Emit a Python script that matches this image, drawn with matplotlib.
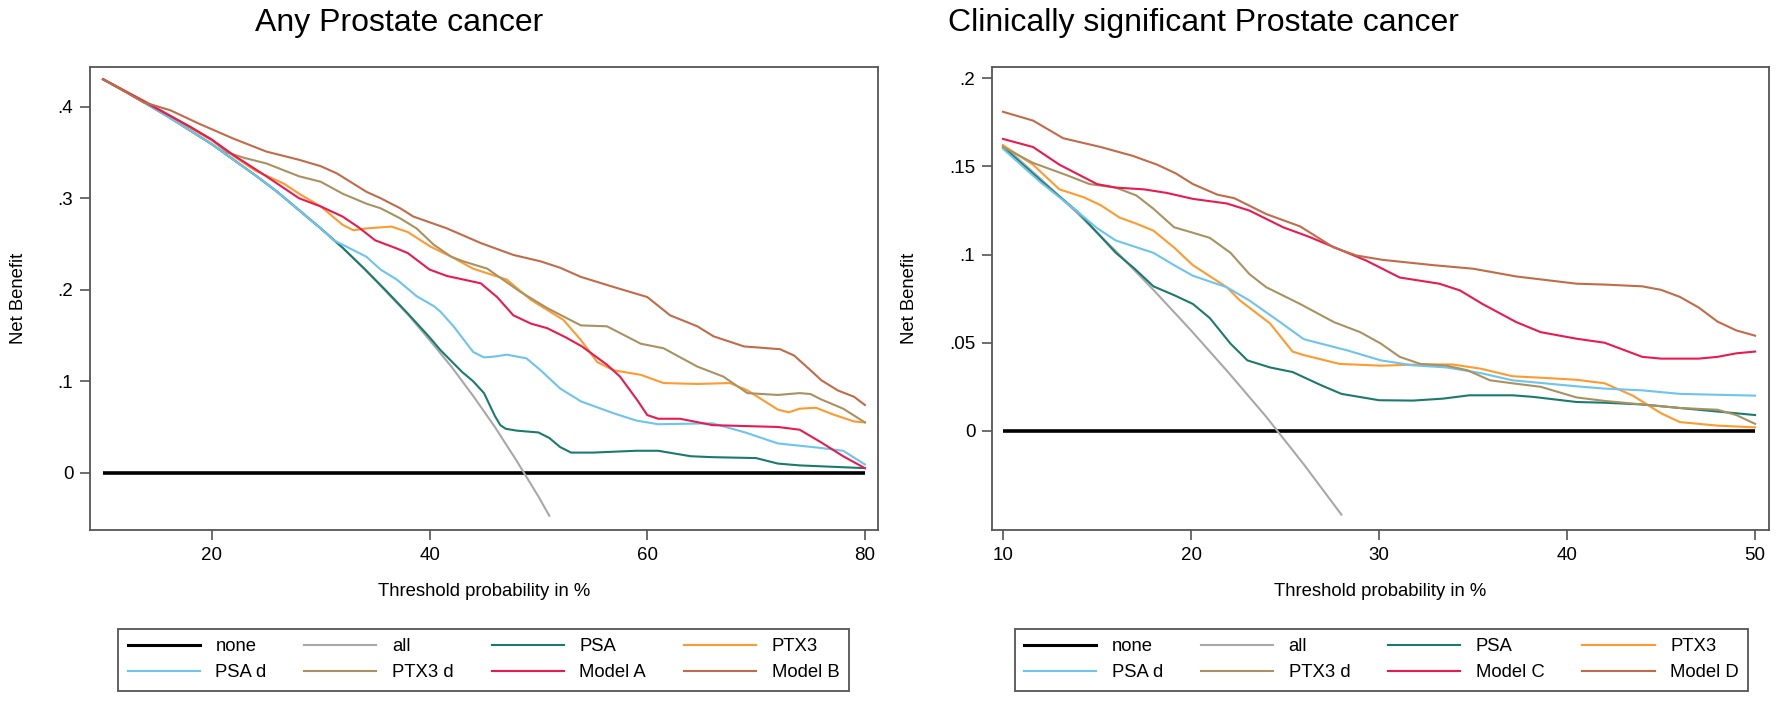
"""
Decision curves: net benefit vs threshold probability, two panels
"""
import matplotlib
matplotlib.use('Agg')
import matplotlib.pyplot as plt
from matplotlib.lines import Line2D

plt.rcParams['font.family'] = ['Liberation Sans', 'DejaVu Sans']

# ---- left panel: any prostate cancer ----
any_all_x = [10, 12, 14, 16, 18, 20, 22, 24, 26, 28, 30, 32, 34, 36, 38, 40, 42, 44, 46, 48, 50, 51]
any_all_y = [0.430, 0.417, 0.403, 0.389, 0.374, 0.359, 0.342, 0.325, 0.307, 0.287, 0.267,
             0.246, 0.223, 0.198, 0.173, 0.145, 0.116, 0.084, 0.050, 0.013, -0.026, -0.047]

any_psa_x = [10, 12, 14, 16, 18, 20, 22, 24, 26, 28, 30, 32, 34, 36, 38, 40, 41, 42, 43, 44, 45,
             46, 46.5, 47, 48, 50, 51, 52, 53, 55, 57, 59, 61, 62, 64, 66, 70, 72, 74, 76, 78, 80]
any_psa_y = [0.430, 0.417, 0.403, 0.389, 0.374, 0.359, 0.342, 0.325, 0.307, 0.287, 0.267,
             0.246, 0.223, 0.199, 0.174, 0.148, 0.134, 0.122, 0.110, 0.100, 0.087,
             0.062, 0.052, 0.048, 0.046, 0.044, 0.038, 0.028, 0.022, 0.022, 0.023, 0.024,
             0.024, 0.022, 0.018, 0.017, 0.016, 0.010, 0.008, 0.007, 0.006, 0.005]

any_ptx3_x = [10, 14, 18, 20, 22, 24, 26.6, 28, 30, 32, 33, 34.2, 36.5, 38, 40.1, 42, 44, 47.1,
              49.3, 52.3, 53.9, 55.4, 56.9, 59.4, 61.5, 64.6, 67.6, 69.2, 72, 73, 74, 75.5, 77, 79, 80]
any_ptx3_y = [0.430, 0.404, 0.377, 0.363, 0.346, 0.330, 0.316, 0.305, 0.291, 0.271, 0.265,
              0.267, 0.269, 0.263, 0.247, 0.236, 0.223, 0.211, 0.189, 0.167, 0.145, 0.121,
              0.112, 0.107, 0.098, 0.097, 0.098, 0.090, 0.069, 0.066, 0.070, 0.071, 0.064,
              0.056, 0.055]

any_psad_x = [10, 12, 14, 16, 18, 20, 22, 24, 26, 28, 30, 31.2, 32.7, 34.2, 35.5, 37, 38.8, 40.4,
              41, 42.2, 44, 45, 46, 47.1, 48.9, 50.2, 52, 53.9, 56.9, 59, 61, 66, 69, 72, 76, 78, 80]
any_psad_y = [0.430, 0.417, 0.403, 0.389, 0.374, 0.359, 0.342, 0.325, 0.307, 0.287, 0.267,
              0.254, 0.245, 0.236, 0.222, 0.211, 0.193, 0.182, 0.176, 0.160, 0.132, 0.126,
              0.127, 0.129, 0.125, 0.112, 0.092, 0.078, 0.065, 0.057, 0.053, 0.054, 0.044,
              0.032, 0.027, 0.024, 0.009]

any_ptx3d_x = [10, 14, 18, 20, 21.4, 23, 25, 28, 30, 32, 34.2, 35.5, 37.3, 38.8, 40.4, 42, 43.1,
               45.3, 48.3, 50.8, 53.9, 56.3, 59.4, 61.5, 64.6, 67, 69.2, 72, 74, 75, 76, 78, 80]
any_ptx3d_y = [0.430, 0.405, 0.378, 0.364, 0.350, 0.344, 0.338, 0.324, 0.318, 0.305, 0.294,
               0.289, 0.278, 0.267, 0.249, 0.236, 0.231, 0.223, 0.198, 0.180, 0.161, 0.160,
               0.141, 0.136, 0.116, 0.105, 0.087, 0.085, 0.087, 0.086, 0.080, 0.070, 0.055]

any_moda_x = [10, 14, 16, 18, 20, 22, 25, 28, 30, 32, 33.5, 35, 37, 38, 40, 41.6, 44.7, 46.2,
              47.7, 49.3, 50.8, 52.5, 54, 56.3, 57.5, 59.1, 60, 61, 63, 66, 72, 74, 75, 76, 78, 80]
any_moda_y = [0.430, 0.404, 0.391, 0.378, 0.364, 0.347, 0.324, 0.300, 0.291, 0.280, 0.268,
              0.254, 0.245, 0.240, 0.222, 0.215, 0.207, 0.192, 0.172, 0.163, 0.158, 0.148,
              0.138, 0.118, 0.105, 0.079, 0.063, 0.059, 0.059, 0.052, 0.050, 0.047, 0.040,
              0.033, 0.018, 0.005]

any_modb_x = [10, 13.7, 16.2, 18.9, 22, 25, 28, 30, 31.5, 34.2, 35.5, 37.3, 38.5, 41.6, 44.7,
              47.7, 50.2, 52, 53.9, 56.9, 60, 62.1, 64.6, 66.1, 68.9, 72.2, 73.5, 75, 76, 77.5, 79, 80]
any_modb_y = [0.430, 0.405, 0.396, 0.381, 0.365, 0.351, 0.342, 0.335, 0.327, 0.307, 0.300,
              0.289, 0.280, 0.267, 0.251, 0.238, 0.231, 0.224, 0.214, 0.203, 0.192, 0.172,
              0.160, 0.149, 0.138, 0.135, 0.128, 0.112, 0.101, 0.090, 0.083, 0.074]

# ---- right panel: clinically significant prostate cancer ----
cs_all_x = [10, 12, 14, 16, 18, 20, 22, 24, 26, 28]
cs_all_y = [0.162, 0.143, 0.123, 0.102, 0.080, 0.057, 0.033, 0.008, -0.019, -0.0475]

cs_psa_x = [10, 12, 14, 16, 17, 18, 19.1, 20.1, 21, 22.1, 23, 24.2, 25.4, 26.9, 28, 30, 31.8,
            33.4, 34.8, 37.1, 38.2, 40.5, 42, 44, 46, 48, 50]
cs_psa_y = [0.161, 0.142, 0.124, 0.101, 0.092, 0.082, 0.077, 0.072, 0.064, 0.0495, 0.040,
            0.036, 0.0334, 0.026, 0.021, 0.0174, 0.0172, 0.0183, 0.0202, 0.0202, 0.0193,
            0.0164, 0.016, 0.015, 0.013, 0.011, 0.009]

cs_ptx3_x = [10, 11.6, 13, 14.3, 15.2, 16.2, 17.1, 18, 19.1, 20.1, 21.9, 22.6, 24.2, 25.4, 26,
             27.9, 30.1, 32.2, 33.9, 35.4, 37.1, 38.9, 40.5, 42, 43.5, 45, 46, 48, 50]
cs_ptx3_y = [0.162, 0.151, 0.137, 0.1325, 0.128, 0.121, 0.1175, 0.1136, 0.104, 0.094, 0.0815,
             0.074, 0.061, 0.045, 0.043, 0.038, 0.037, 0.0377, 0.0377, 0.0353, 0.031, 0.030,
             0.029, 0.027, 0.020, 0.010, 0.005, 0.003, 0.002]

cs_psad_x = [10, 12, 14, 15, 16, 18, 19.1, 20.1, 21.9, 23.1, 24.7, 26, 28.3, 30.1, 31.8, 33.6,
             35.4, 37.1, 40.5, 42, 44, 46, 50]
cs_psad_y = [0.160, 0.141, 0.124, 0.115, 0.108, 0.101, 0.094, 0.088, 0.0815, 0.074, 0.062,
             0.052, 0.0457, 0.040, 0.0372, 0.036, 0.0328, 0.0287, 0.0253, 0.024, 0.023,
             0.021, 0.020]

cs_ptx3d_x = [10, 11.6, 13.4, 14.6, 16, 17.1, 18, 19.1, 20, 21, 22.1, 23.1, 24, 25.8, 27.6, 29,
              30.1, 31.1, 32.2, 33.6, 34.7, 35.9, 37.1, 38.6, 40.5, 42, 44, 46, 48, 49, 50]
cs_ptx3d_y = [0.161, 0.152, 0.145, 0.140, 0.138, 0.1335, 0.126, 0.1155, 0.1127, 0.1095, 0.101,
              0.089, 0.0815, 0.072, 0.0617, 0.056, 0.0495, 0.042, 0.038, 0.037, 0.0344,
              0.0287, 0.027, 0.025, 0.019, 0.017, 0.015, 0.013, 0.012, 0.009, 0.004]

cs_modc_x = [10, 11.6, 13, 15, 16, 17.5, 18.7, 20.1, 21.9, 23.1, 24.9, 26.3, 28.1, 29.3, 31.1,
             33.2, 34.3, 35.5, 37.3, 38.6, 40.5, 42, 43, 44, 45, 47, 48, 49, 50]
cs_modc_y = [0.1656, 0.161, 0.151, 0.140, 0.138, 0.137, 0.135, 0.1316, 0.129, 0.125, 0.1155,
             0.110, 0.102, 0.0967, 0.087, 0.0835, 0.0797, 0.072, 0.0617, 0.056, 0.0523,
             0.050, 0.046, 0.042, 0.041, 0.041, 0.042, 0.044, 0.045]

cs_modd_x = [10, 11.6, 13.2, 15.2, 16.9, 18.2, 19.2, 20.1, 21.4, 22.3, 24, 25.8, 27.6, 28.8,
             30.2, 32.9, 35, 37.3, 40.5, 42, 44, 45, 46, 47, 48, 49, 50]
cs_modd_y = [0.181, 0.176, 0.166, 0.161, 0.156, 0.151, 0.146, 0.140, 0.134, 0.132, 0.123,
             0.116, 0.104, 0.0995, 0.097, 0.094, 0.092, 0.0876, 0.0835, 0.083, 0.082,
             0.080, 0.076, 0.070, 0.062, 0.057, 0.054]

left_yticks = [0, 0.1, 0.2, 0.3, 0.4]
left_ylabels = ['0', '.1', '.2', '.3', '.4']
left_xticks = [20, 40, 60, 80]
right_yticks = [0, 0.05, 0.1, 0.15, 0.2]
right_ylabels = ['0', '.05', '.1', '.15', '.2']
right_xticks = [10, 20, 30, 40, 50]

colors = {
    'none': 'black',
    'all': '#a8a8a8',
    'PSA': '#1b7a6e',
    'PTX3': '#ff9a2e',
    'PSA d': '#6cc4ef',
    'PTX3 d': '#a99262',
    'model1': '#e91a50',
    'model2': '#c26b48',
}

W, H = 1777, 701
FRAME = '#555555'


def draw_panel(fig, box, xlim, ylim, x_end, series, names, yticks, ylabels, xticks,
               title, title_cx, ylab_x, legend_cx):
    l, r, t, b = box
    ax = fig.add_axes([l / W, 1 - b / H, (r - l) / W, (b - t) / H])
    ax.plot([10, x_end], [0, 0], color=colors['none'], lw=2.6, solid_capstyle='butt',
            label='none')
    keys = ['all', 'PSA', 'PTX3', 'PSA d', 'PTX3 d', 'model1', 'model2']
    for k, (xs, ys) in zip(keys, series):
        ax.plot(xs, ys, color=colors[k], lw=1.5, label=names[k])
    ax.set_xlim(*xlim)
    ax.set_ylim(*ylim)
    ax.set_yticks(yticks)
    ax.set_yticklabels(ylabels)
    ax.set_xticks(xticks)
    ax.tick_params(direction='out', length=7, width=1.2, color=FRAME, labelsize=13.5,
                   pad=5)
    for s in ax.spines.values():
        s.set_color(FRAME)
        s.set_linewidth(1.3)

    fig.text(title_cx / W, 1 - 31.5 / H, title, fontsize=23, ha='center', va='baseline')
    fig.text(ylab_x / W, 1 - 298.5 / H, 'Net Benefit', fontsize=13.3, rotation=90,
             ha='center', va='center')
    fig.text((l + r) / 2 / W, 1 - 592 / H, 'Threshold probability in %', fontsize=13.3,
             ha='center', va='center')

    # stata fills the legend row by row, matplotlib column by column
    order = ['none', 'PSA d', 'all', 'PTX3 d', 'PSA', 'model1', 'PTX3', 'model2']
    handles = [Line2D([], [], color=colors[k], lw=2.2 if k == 'none' else 1.5) for k in order]
    labels = [names[k] for k in order]
    leg = fig.legend(handles, labels, ncol=4, loc='upper center',
                     bbox_to_anchor=(legend_cx / W, 1 - 629 / H), fontsize=13.3,
                     frameon=True, fancybox=False, framealpha=1, edgecolor=FRAME,
                     handlelength=3.9, handletextpad=0.85, columnspacing=2.05,
                     labelspacing=0.5, borderpad=0.5, borderaxespad=0)
    leg.get_frame().set_linewidth(1.3)
    return ax


fig = plt.figure(figsize=(W / 100, H / 100), dpi=100)

names_any = {'none': 'none', 'all': 'all', 'PSA': 'PSA', 'PTX3': 'PTX3', 'PSA d': 'PSA d',
             'PTX3 d': 'PTX3 d', 'model1': 'Model A', 'model2': 'Model B'}
names_cs = dict(names_any, model1='Model C', model2='Model D')

draw_panel(fig, (90, 878, 67, 530), (8.8, 81.2), (-0.0626, 0.4434), 80,
           [(any_all_x, any_all_y), (any_psa_x, any_psa_y), (any_ptx3_x, any_ptx3_y),
            (any_psad_x, any_psad_y), (any_ptx3d_x, any_ptx3d_y),
            (any_moda_x, any_moda_y), (any_modb_x, any_modb_y)],
           names_any, left_yticks, left_ylabels, left_xticks,
           'Any Prostate cancer', 399, 18.5, 483.5)

draw_panel(fig, (992, 1769, 67, 530), (9.415, 50.74), (-0.0562, 0.2064), 50,
           [(cs_all_x, cs_all_y), (cs_psa_x, cs_psa_y), (cs_ptx3_x, cs_ptx3_y),
            (cs_psad_x, cs_psad_y), (cs_ptx3d_x, cs_ptx3d_y),
            (cs_modc_x, cs_modc_y), (cs_modd_x, cs_modd_y)],
           names_cs, right_yticks, right_ylabels, right_xticks,
           'Clinically significant Prostate cancer', 1203, 910, 1381.5)

fig.savefig('out.png', dpi=100, facecolor='white')
